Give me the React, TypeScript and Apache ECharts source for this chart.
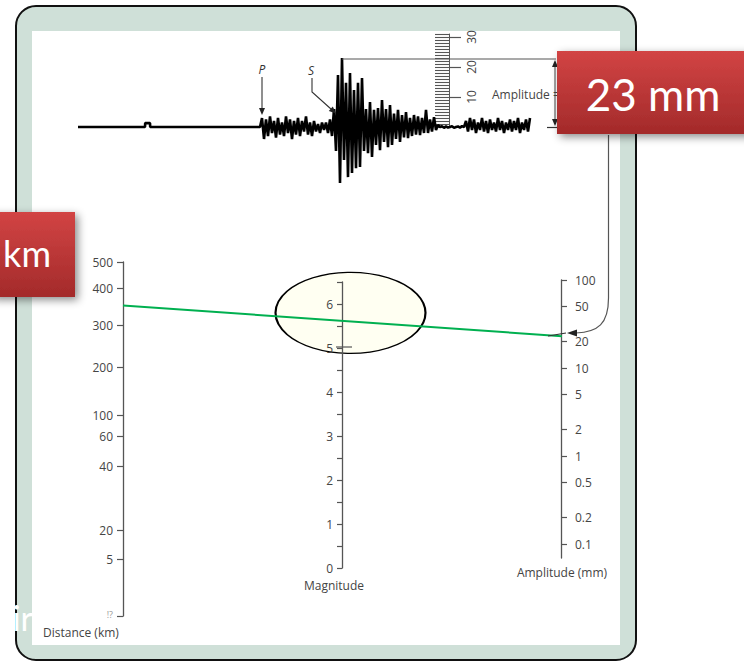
import React, { useEffect, useRef } from "react";
import * as echarts from "echarts";

// ---------- Seismogram (time in samples, amplitude in mm) ----------
const preEventTrace: [number, number][] = [
  [0, 0], [33.5, 0], [33.6, 1.3], [36, 1.3], [36.1, 0], [90.5, 0],
];
const waveStart = 91;
const waveAmp: number[] = [
  // P coda
  0, 3, -4, 2.5, -3, 3.5, -2, 2, -3.5, 3, -2.5, 1.5, -3, 3.5, -2, 2.5, -4, 2, -2.5, 3,
  -3, 2, -1.5, 3.5, -2.5, 1.5, -3, 2, -1.5, 1, -2, 1.5, -1, 1.5, -2, 2.5, -3,
  // S arrival and coda
  6, -8, 17.3, -18.7, 23, -11, 14.7, -16.7, 18, -15.3, 12.3, -13.7, 14.7, -13.3, 16.3, -8,
  6, -8.7, 8.3, -10, 5.7, -6, 6.3, -7.7, 9, -5, 6, -6.7, 7.3, -6, 4.5, -4, 5.7, -5, 4,
  -3.5, 5, -3.7, 3, -3, 4, -2.5, 3.5, -2.7, 3, -2, 5.7, -2, 2.5, -1.5, 3.3, -1, 0.7,
  // quiet
  0, 0.3, -0.3, 0.2, -0.2, 0, 0.3, -0.3, 0, 0.2, -0.2, 0.3, 0,
  // late noise
  2, -1.5, 3, -1, 2.5, -2, 1.5, -1, 3, -1.5, 2, -2, 2.5, -1, 1.5, -1.5, 3, -1, 2, -2,
  1.5, -1, 2.5, -1.5, 2, -1, 3, -2, 1.5, -1, 2.5, -1.5, 3,
];
const traceEnd = 226;
const rulerMajor = [10, 20, 30];
const rulerMax = 31;

// ---------- Nomogram scales ----------
const distanceTicks = ["500", "400", "300", "200", "100", "60", "40", "20", "5", "!?"];
const distanceKm = [500, 400, 300, 200, 100, 60, 40, 20, 5];
// Richter distance correction (-log A0)
const distanceLogA0 = [4.75, 4.45, 4.03, 3.55, 3.01, 2.77, 2.43, 1.7, 1.375, 0.727];
const magnitudeTicks = [0, 1, 2, 3, 4, 5, 6];
const magnitudeMax = 6.5;
const amplitudeTicks = [100, 50, 20, 10, 5, 2, 1, 0.5, 0.2, 0.1];
const amplitudeMin = 0.0693;
const amplitudeMax = 100;

// Reading
const readingDistanceKm = 350;
const readingAmplitudeMm = 23;

// ---------- layout ----------
const U = 88; // px per log unit
const DT = 262; // distance grid top
const AT = 280; // amplitude grid top
const MT = 282; // magnitude grid top
const distMax = distanceLogA0[0];
const distMin = distanceLogA0[distanceLogA0.length - 1];
const ampLogMax = Math.log10(amplitudeMax);
const ampLogMin = Math.log10(amplitudeMin);

function distanceToLogA0(km: number): number {
  for (let i = 0; i < distanceKm.length - 1; i++) {
    const a = distanceKm[i], b = distanceKm[i + 1];
    if (km <= a && km >= b) {
      const t = Math.log(a / km) / Math.log(a / b);
      return distanceLogA0[i] + t * (distanceLogA0[i + 1] - distanceLogA0[i]);
    }
  }
  return distanceLogA0[0];
}
const ampOffset = distMax - (AT - DT) / U - ampLogMax;

const FONT = "'Open Sans', 'Noto Sans', sans-serif";
const labelStyle = { color: "#454545", fontSize: 12, fontFamily: FONT };
const axLine = { show: true, lineStyle: { color: "#555", width: 1.3 } };
const tickLS = { color: "#555", width: 1.2 };

function ln(x1: number, y1: number, x2: number, y2: number, color = "#555", w = 1.2, z = 10) {
  return { type: "line", z, silent: true, shape: { x1, y1, x2, y2 }, style: { stroke: color, lineWidth: w } };
}
function tx(text: string, x: number, y: number, opts: any = {}) {
  const align = opts.align || "left";
  return {
    type: "text", z: opts.z ?? 10, silent: true,
    style: {
      text, x, y, fill: opts.fill || "#333",
      font: opts.font || `12px ${FONT}`,
      textAlign: align, align, verticalAlign: "middle", textVerticalAlign: "middle",
    },
  };
}

export default function App() {
  const ref = useRef<HTMLDivElement>(null);
  useEffect(() => {
    if (!ref.current) return;
    const chart = echarts.init(ref.current, undefined, { renderer: "svg" });

    const traceData: [number, number][] = [
      ...preEventTrace,
      ...waveAmp.map((v, i) => [waveStart + i, v] as [number, number]),
    ];
    const zDist = distanceToLogA0(readingDistanceKm);
    const zAmp = ampOffset + Math.log10(readingAmplitudeMm);
    const zMid = (zDist + zAmp) / 2;

    const redGrad = new echarts.graphic.LinearGradient(0, 0, 0, 1, [
      { offset: 0, color: "#d24444" },
      { offset: 1, color: "#a32a2a" },
    ]);
    const redGrad2 = new echarts.graphic.LinearGradient(0, 0, 0, 1, [
      { offset: 0, color: "#d24444" },
      { offset: 1, color: "#a32a2a" },
    ]);
    const shadow = { shadowBlur: 8, shadowColor: "rgba(0,0,0,0.45)", shadowOffsetX: 3, shadowOffsetY: 3 };

    const hiddenX = (gridIndex: number, min: number, max: number) => ({
      type: "value", gridIndex, min, max, show: false,
    });

    const option: any = {
      animation: false,
      grid: [
        { left: 78, top: 31, width: 452, height: 159, outerBoundsMode: "none" },
        { left: 449, top: 127 - rulerMax * 3, width: 1, height: rulerMax * 3, outerBoundsMode: "none" },
        { left: 123, top: DT, width: 1, height: (distMax - distMin) * U, outerBoundsMode: "none" },
        { left: 342, top: MT, width: 1, height: magnitudeMax * U / 2, outerBoundsMode: "none" },
        { left: 561, top: AT, width: 1, height: (ampLogMax - ampLogMin) * U, outerBoundsMode: "none" },
        { left: 123, top: DT, width: 439, height: (distMax - distMin) * U, outerBoundsMode: "none" },
      ],
      xAxis: [
        hiddenX(0, 0, traceEnd),
        hiddenX(1, 0, 1),
        hiddenX(2, 0, 1),
        hiddenX(3, 0, 1),
        hiddenX(4, 0, 1),
        hiddenX(5, 0, 2),
      ],
      yAxis: [
        { type: "value", gridIndex: 0, min: -21, max: 32, show: false },
        {
          type: "value", gridIndex: 1, position: "right", min: 0, max: rulerMax,
          splitLine: { show: false }, axisLine: { show: true, lineStyle: { color: "#555", width: 1 } },
          axisTick: { show: true, length: 12, customValues: rulerMajor, lineStyle: tickLS },
          axisLabel: { customValues: rulerMajor, rotate: 90, margin: 15, ...labelStyle },
        },
        {
          type: "value", gridIndex: 1, position: "left", min: 0, max: rulerMax, interval: 1,
          splitLine: { show: false }, axisLine: { show: false },
          axisTick: { show: true, length: 14, lineStyle: { color: "#555", width: 1.1 } },
          axisLabel: { show: false },
        },
        {
          type: "value", gridIndex: 2, position: "left", min: distMin, max: distMax,
          splitLine: { show: false }, axisLine: axLine,
          axisTick: { show: true, length: 6, customValues: distanceLogA0, lineStyle: tickLS },
          axisLabel: {
            customValues: distanceLogA0, margin: 10, ...labelStyle,
            rich: { s: { fontSize: 9, color: "#9a9a9a", fontFamily: FONT, padding: [0, 0, 4, 0] } },
            formatter: (v: number) => {
              const i = distanceLogA0.findIndex((d) => Math.abs(d - v) < 1e-6);
              if (i < 0) return "";
              return i === distanceLogA0.length - 1 ? `{s|${distanceTicks[i]}}` : distanceTicks[i];
            },
          },
        },
        {
          type: "value", gridIndex: 3, position: "left", min: 0, max: magnitudeMax, z: 3,
          splitLine: { show: false }, axisLine: axLine,
          axisTick: { show: true, length: 5, customValues: magnitudeTicks.flatMap((m) => [m, m + 0.5]), lineStyle: tickLS },
          axisLabel: { customValues: magnitudeTicks, margin: 9, ...labelStyle },
        },
        {
          type: "value", gridIndex: 4, position: "right", min: ampLogMin, max: ampLogMax,
          splitLine: { show: false }, axisLine: axLine,
          axisTick: { show: true, length: 6, customValues: amplitudeTicks.map(Math.log10), lineStyle: tickLS },
          axisLabel: {
            customValues: amplitudeTicks.map(Math.log10), margin: 13, ...labelStyle,
            formatter: (v: number) => {
              const i = amplitudeTicks.findIndex((a) => Math.abs(Math.log10(a) - v) < 1e-6);
              return i >= 0 ? String(amplitudeTicks[i]) : "";
            },
          },
        },
        { type: "value", gridIndex: 5, min: distMin, max: distMax, show: false },
      ],
      series: [
        {
          type: "line", xAxisIndex: 0, yAxisIndex: 0, data: traceData, symbol: "none", silent: true, z: 2,
          lineStyle: { color: "#000", width: 2.6, join: "bevel" },
        },
        {
          type: "scatter", xAxisIndex: 5, yAxisIndex: 6, data: [[1, zMid]], symbol: "circle",
          symbolSize: [150, 81], symbolOffset: [8, -8], silent: true, z: 1,
          itemStyle: { color: "#fffff2", borderColor: "#000", borderWidth: 1.6, opacity: 1 },
        },
        {
          type: "line", xAxisIndex: 5, yAxisIndex: 6, data: [[0, zDist], [2, zAmp]], symbol: "none", silent: true, z: 4,
          lineStyle: { color: "#00b050", width: 2 },
        },
      ],
      graphic: {
        elements: [
          { type: "rect", z: -100, silent: true, shape: { x: 16, y: 6, width: 620, height: 654, r: 20 }, style: { fill: "#cfe0d8", stroke: "#111", lineWidth: 2 } },
          { type: "rect", z: -99, silent: true, shape: { x: 32, y: 31, width: 588, height: 614 }, style: { fill: "#ffffff" } },
          // P and S arrows
          tx("P", 262, 69, { align: "center", font: `italic 12px ${FONT}` }),
          ln(262, 77, 262, 110, "#333", 1.1),
          { type: "polygon", z: 10, silent: true, shape: { points: [[262, 115], [259, 108], [265, 108]] }, style: { fill: "#222" } },
          tx("S", 311, 70, { align: "center", font: `italic 12px ${FONT}` }),
          { type: "polyline", z: 10, silent: true, shape: { points: [[312, 78], [312, 92], [331, 109]] }, style: { stroke: "#333", lineWidth: 1.1, fill: null } },
          { type: "polygon", z: 10, silent: true, shape: { points: [[336, 113.5], [328.8, 111], [332.8, 106.6]] }, style: { fill: "#222" } },
          // amplitude bracket
          ln(342, 59, 556, 59, "#555", 1.2),
          ln(555, 64, 555, 121, "#555", 1.1),
          { type: "polygon", z: 10, silent: true, shape: { points: [[555, 60], [552, 67], [558, 67]] }, style: { fill: "#222" } },
          { type: "polygon", z: 10, silent: true, shape: { points: [[555, 126], [552, 119], [558, 119]] }, style: { fill: "#222" } },
          ln(547, 127.5, 560, 127.5, "#333", 1.2),
          tx("Amplitude =", 492, 94, { fill: "#444" }),
          // curved arrow to amplitude axis
          ln(608.5, 135, 608.5, 298, "#555", 1.2),
          { type: "bezierCurve", z: 10, silent: true, shape: { x1: 608.5, y1: 298, cpx1: 608.5, cpy1: 324, cpx2: 598, cpy2: 332, x2: 576, y2: 333 }, style: { stroke: "#555", lineWidth: 1.2, fill: null } },
          { type: "polygon", z: 10, silent: true, shape: { points: [[567, 333], [577, 329.5], [577, 336.5]] }, style: { fill: "#222" } },
          ln(548, 336, 566, 333, "#333", 1.2),
          ln(336, 347, 352, 347, "#555", 1.2),
          // axis titles
          tx("Distance (km)", 43, 632, { fill: "#444" }),
          tx("Magnitude", 334, 585, { align: "center", fill: "#444" }),
          tx("Amplitude (mm)", 562, 572, { align: "center", fill: "#444" }),
          // red labels
          { type: "rect", z: 100, silent: true, shape: { x: 557, y: 51, width: 200, height: 83 }, style: { fill: redGrad, ...shadow } },
          tx("23 mm", 653, 94, { align: "center", fill: "#ffffff", font: `44px Lato, ${FONT}`, z: 101 }),
          { type: "rect", z: 100, silent: true, shape: { x: -10, y: 212, width: 85, height: 85 }, style: { fill: redGrad2, ...shadow } },
          tx("km", 51, 253, { align: "right", fill: "#ffffff", font: `36px Lato, ${FONT}`, z: 101 }),
          tx("ir", 33, 617, { align: "right", fill: "#ffffff", font: `34px Lato, ${FONT}`, z: 101 }),
        ],
      },
    };
    chart.setOption(option);
    return () => chart.dispose();
  }, []);
  return (
    <div
      ref={ref}
      style={{ position: "fixed", left: 0, top: 0, width: 744, height: 667, background: "#fff" }}
    />
  );
}
